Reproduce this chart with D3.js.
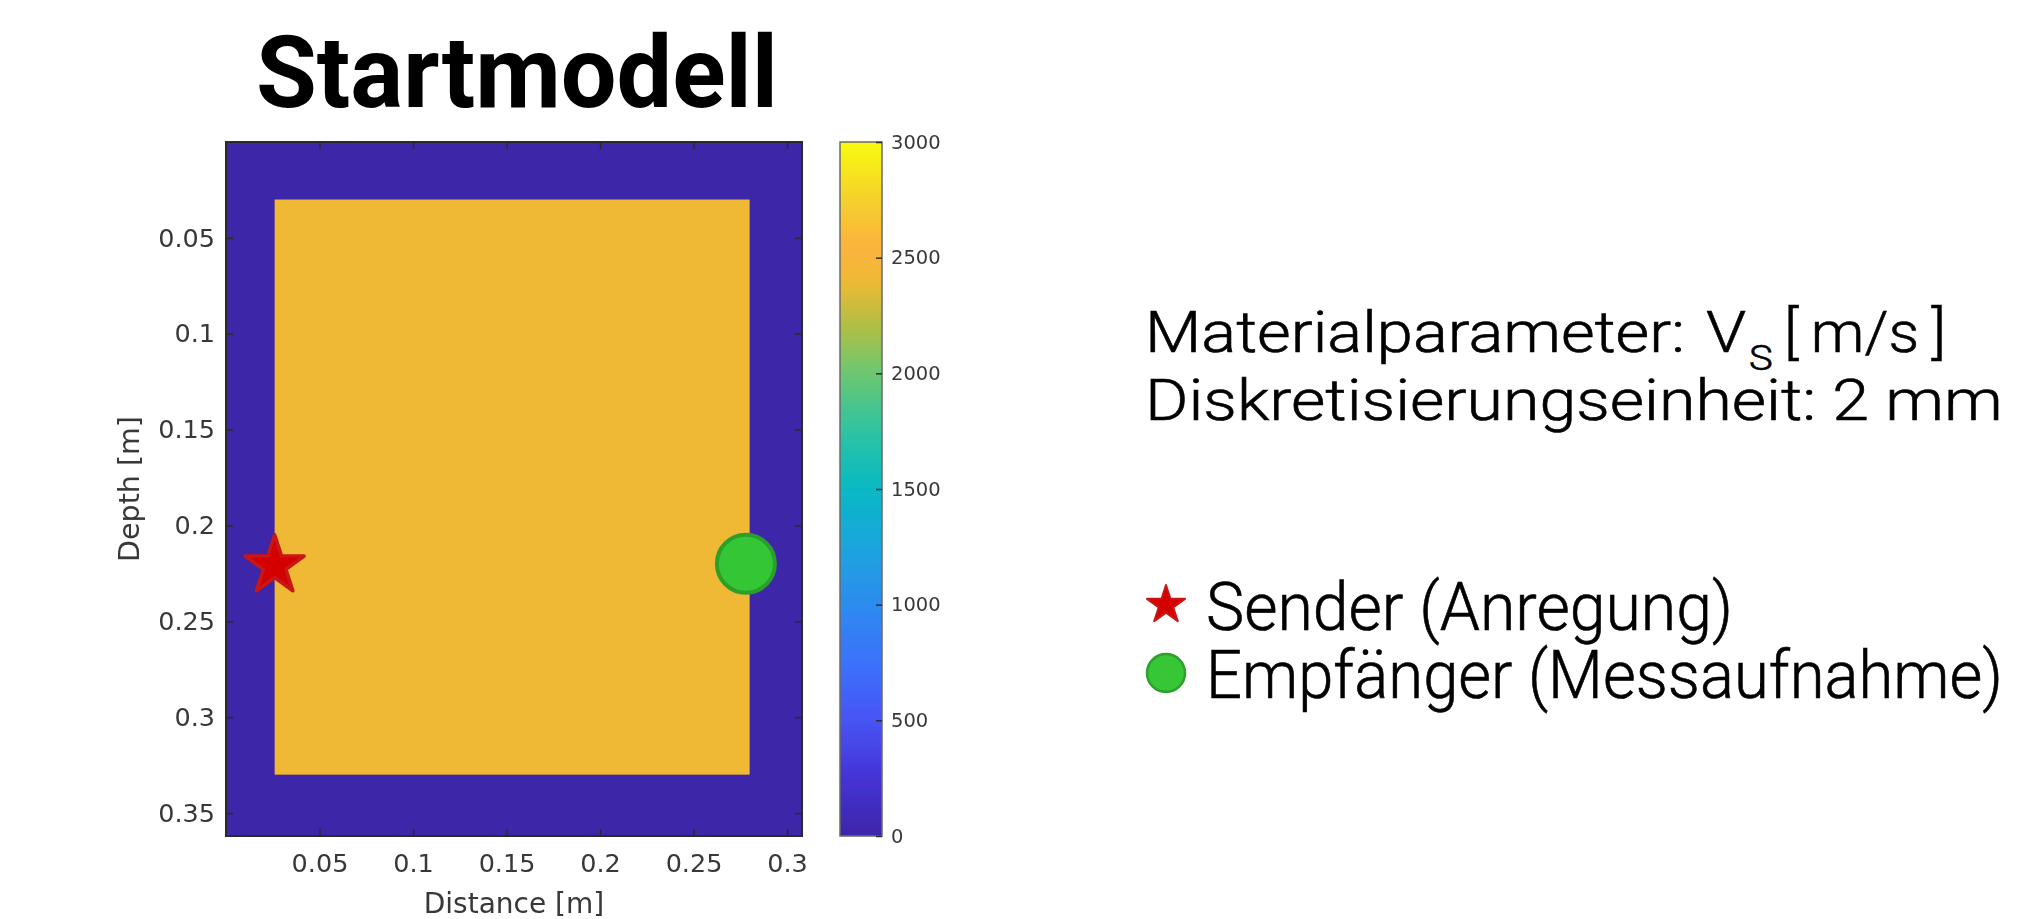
<!DOCTYPE html>
<html>
<head>
<meta charset="utf-8">
<script src="https://cdn.jsdelivr.net/npm/d3@7"></script>
<style>
  html, body { margin: 0; padding: 0; background: #fff; }
  svg { display: block; }
</style>
</head>
<body>
<svg id="chart" width="2026" height="919"></svg>
<script>
// ---- Start model: S-wave velocity per rectangular region (metres, m/s) ----
const regionNames = ["Rand", "Probekörper"];
const regionX0 = [0, 0.026];
const regionX1 = [0.308, 0.28];
const regionY0 = [0, 0.03];
const regionY1 = [0.362, 0.33];
const regionVs = [0, 2400];

// Source and receiver positions [distance, depth] in metres
const senderPos = [0.026, 0.221];
const receiverPos = [0.278, 0.22];

// Axis extents and ticks
const xDomain = [0, 0.308];
const yDomain = [0, 0.362];
const xTicks = [0.05, 0.1, 0.15, 0.2, 0.25, 0.3];
const xTickLabels = ["0.05", "0.1", "0.15", "0.2", "0.25", "0.3"];
const yTicks = [0.05, 0.1, 0.15, 0.2, 0.25, 0.3, 0.35];
const yTickLabels = ["0.05", "0.1", "0.15", "0.2", "0.25", "0.3", "0.35"];
const vsDomain = [0, 3000];
const cbTicks = [0, 500, 1000, 1500, 2000, 2500, 3000];
const cbTickLabels = ["0", "500", "1000", "1500", "2000", "2500", "3000"];

// Texts
const titleText = "Startmodell";
const xLabel = "Distance [m]";
const yLabel = "Depth [m]";
const legendLabels = ["Sender (Anregung)", "Empfänger (Messaufnahme)"];

// Parula-like colormap (position in [0,1] -> colour)
const cmapPos = [0, 0.083, 0.167, 0.25, 0.333, 0.417, 0.5, 0.583, 0.667, 0.733, 0.8, 0.85, 0.92, 1];
const cmapCol = ["#3e26a8", "#4433d5", "#4754f4", "#3b72fb", "#2d8bef", "#1ca5dd", "#06b9c4",
                 "#2ec3a2", "#6cc771", "#afbf45", "#efb935", "#fbb33d", "#f5d22c", "#f9fb0e"];

// ---- Layout ----
const svg = d3.select("#chart");
const plot = { left: 226, right: 802, top: 142, bottom: 836 };
const cb = { left: 840, right: 882, top: 142, bottom: 836 };
const axisColor = "#2b2b2b";
const labelColor = "#383838";
const axisFont = "'DejaVu Sans', sans-serif";

const x = d3.scaleLinear().domain(xDomain).range([plot.left, plot.right]);
const y = d3.scaleLinear().domain(yDomain).range([plot.top, plot.bottom]);
const color = d3.scaleLinear()
  .domain(cmapPos.map(p => vsDomain[0] + p * (vsDomain[1] - vsDomain[0])))
  .range(cmapCol)
  .interpolate(d3.interpolateRgb)
  .clamp(true);
const cbScale = d3.scaleLinear().domain(vsDomain).range([cb.bottom, cb.top]);

const defs = svg.append("defs");
defs.append("filter").attr("id", "soft")
  .attr("x", "-5%").attr("y", "-5%").attr("width", "110%").attr("height", "110%")
  .append("feGaussianBlur").attr("stdDeviation", 0.6);

const fig = svg.append("g").attr("filter", "url(#soft)");

// Model regions
fig.append("g").selectAll("rect")
  .data(regionNames.map((n, i) => ({ n, i })))
  .join("rect")
  .attr("x", d => x(regionX0[d.i]))
  .attr("y", d => y(regionY0[d.i]))
  .attr("width", d => x(regionX1[d.i]) - x(regionX0[d.i]))
  .attr("height", d => y(regionY1[d.i]) - y(regionY0[d.i]))
  .attr("fill", d => color(regionVs[d.i]));

// Axes: bottom + left with labels, top + right mirrored ticks (inward)
const tickLen = 7;
const xAxis = d3.axisBottom(x).tickValues(xTicks).tickFormat((d, i) => xTickLabels[i])
  .tickSizeInner(-tickLen).tickSizeOuter(0).tickPadding(18);
const yAxis = d3.axisLeft(y).tickValues(yTicks).tickFormat((d, i) => yTickLabels[i])
  .tickSizeInner(-tickLen).tickSizeOuter(0).tickPadding(11);
const xAxisTop = d3.axisTop(x).tickValues(xTicks).tickFormat("").tickSizeInner(-tickLen).tickSizeOuter(0);
const yAxisRight = d3.axisRight(y).tickValues(yTicks).tickFormat("").tickSizeInner(-tickLen).tickSizeOuter(0);

function styleAxis(g, fs) {
  g.selectAll(".domain").remove();
  g.selectAll("line").attr("stroke", axisColor).attr("stroke-width", 1.5);
  g.selectAll("text").attr("fill", labelColor).style("font-family", axisFont).style("font-size", fs + "px");
}

fig.append("g").attr("transform", `translate(0,${plot.bottom})`).call(xAxis).call(g => styleAxis(g, 25.5));
fig.append("g").attr("transform", `translate(${plot.left},0)`).call(yAxis).call(g => styleAxis(g, 25.5));
fig.append("g").attr("transform", `translate(0,${plot.top})`).call(xAxisTop).call(g => styleAxis(g, 25));
fig.append("g").attr("transform", `translate(${plot.right},0)`).call(yAxisRight).call(g => styleAxis(g, 25));

fig.append("rect")
  .attr("x", plot.left).attr("y", plot.top)
  .attr("width", plot.right - plot.left).attr("height", plot.bottom - plot.top)
  .attr("fill", "none").attr("stroke", axisColor).attr("stroke-width", 2);

// Axis labels
fig.append("text")
  .attr("x", (plot.left + plot.right) / 2).attr("y", 913)
  .attr("text-anchor", "middle").attr("fill", labelColor)
  .style("font-family", axisFont).style("font-size", "28px")
  .text(xLabel);
fig.append("text")
  .attr("transform", `translate(139,${(plot.top + plot.bottom) / 2}) rotate(-90)`)
  .attr("text-anchor", "middle").attr("fill", labelColor)
  .style("font-family", axisFont).style("font-size", "28.5px")
  .text(yLabel);

// Source (star) and receiver (circle)
const starPath = (R) => d3.symbol(d3.symbolStar, R * R / 0.8908)();
fig.append("path")
  .attr("d", starPath(31))
  .attr("transform", `translate(${x(senderPos[0])},${y(senderPos[1])})`)
  .attr("fill", "#d40000").attr("stroke", "#c91515").attr("stroke-width", 3.5)
  .attr("stroke-linejoin", "round");
fig.append("circle")
  .attr("cx", x(receiverPos[0])).attr("cy", y(receiverPos[1])).attr("r", 29)
  .attr("fill", "#36c636").attr("stroke", "#2ca02c").attr("stroke-width", 4);

// Colorbar
const grad = defs.append("linearGradient").attr("id", "cbGrad")
  .attr("x1", 0).attr("y1", 1).attr("x2", 0).attr("y2", 0);
d3.range(0, 65).forEach(k => {
  const t = k / 64;
  grad.append("stop").attr("offset", t).attr("stop-color", color(vsDomain[0] + t * (vsDomain[1] - vsDomain[0])));
});
fig.append("rect")
  .attr("x", cb.left).attr("y", cb.top)
  .attr("width", cb.right - cb.left).attr("height", cb.bottom - cb.top)
  .attr("fill", "url(#cbGrad)")
  .attr("stroke", "#6a6a6a").attr("stroke-width", 1.5);
const cbAxis = d3.axisRight(cbScale).tickValues(cbTicks).tickFormat((d, i) => cbTickLabels[i])
  .tickSizeInner(-6).tickSizeOuter(0).tickPadding(9);
fig.append("g").attr("transform", `translate(${cb.right},0)`).call(cbAxis).call(g => styleAxis(g, 19.5));

// ---- Title and annotation texts (horizontally fitted to their widths) ----
function fitted(parent, x0, baseline, width, build) {
  const g = parent.append("g");
  const t = g.append("text").attr("x", 0).attr("y", 0);
  build(t);
  const w = t.node().getComputedTextLength();
  const k = width / w;
  g.attr("transform", `translate(${x0},${baseline}) scale(${k},1)`);
  return k;
}

fitted(svg, 256, 107, 522, t => t
  .style("font-family", "Roboto, 'Noto Sans', sans-serif")
  .style("font-weight", 700).style("font-size", "101px")
  .attr("fill", "#000").text(titleText));

const infoFont = "Roboto, 'Noto Sans', sans-serif";
function infoText(t, size, str) {
  t.style("font-family", infoFont).style("font-weight", 300)
    .style("font-size", size + "px").attr("fill", "#000")
    .attr("stroke", "#000").attr("stroke-width", 0.6)
    .text(str);
}

// Line 1: "Materialparameter: V_S [m/s]" assembled from pieces
const k1 = fitted(svg, 1145, 352, 540, t => infoText(t, 57, "Materialparameter:"));
const vG = svg.append("g").attr("transform", `translate(1706,352) scale(${k1},1)`);
vG.append("text").call(t => infoText(t, 57, "V"));
const sG = svg.append("g").attr("transform", `translate(1749,370) scale(${k1},1)`);
sG.append("text").call(t => infoText(t, 35, "S"));
fitted(svg, 1784, 352, 162, t => infoText(t, 57, "[\u2009m/s\u2009]"));

// Line 2
fitted(svg, 1145, 420, 858, t => infoText(t, 57, "Diskretisierungseinheit: 2 mm"));

// Legend
const legendY = [630, 698];
const legendEnd = [1733, 2003];
legendLabels.forEach((lab, i) => {
  fitted(svg, 1206, legendY[i], legendEnd[i] - 1206, t => infoText(t, 66, lab));
});
svg.append("path")
  .attr("d", starPath(20))
  .attr("transform", `translate(1166,605)`)
  .attr("fill", "#d40000").attr("stroke", "#c91515").attr("stroke-width", 2)
  .attr("stroke-linejoin", "round");
svg.append("circle")
  .attr("cx", 1166).attr("cy", 673).attr("r", 19)
  .attr("fill", "#36c636").attr("stroke", "#2ca02c").attr("stroke-width", 2.5);
</script>
</body>
</html>
